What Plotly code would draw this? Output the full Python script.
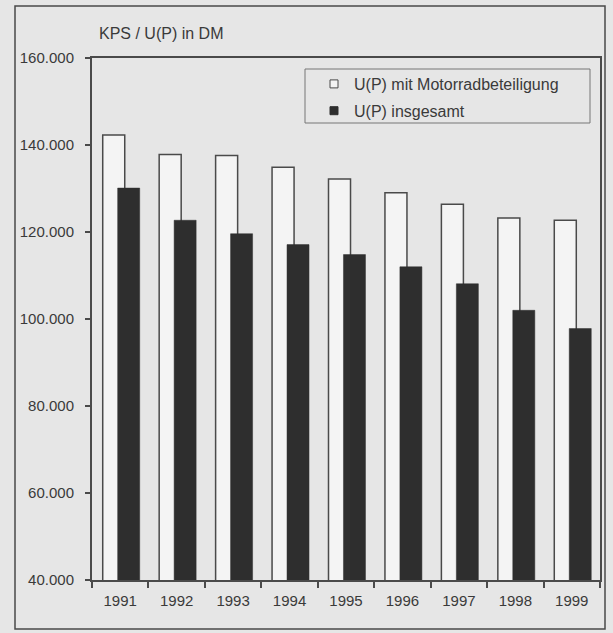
import plotly.graph_objects as go

# Unfallkosten je Personenschaden (DM), 1991-1999
years = ["1991", "1992", "1993", "1994", "1995", "1996", "1997", "1998", "1999"]
up_motorrad = [142300, 137800, 137600, 134900, 132200, 129000, 126400, 123200, 122700]
up_insgesamt = [130100, 122700, 119600, 117100, 114800, 112000, 108100, 102000, 97800]

series_names = ["U(P) mit Motorradbeteiligung", "U(P) insgesamt"]

W, H = 613, 633
ML, MR, MT, MB = 92, 13, 58, 53
PW, PH = W - ML - MR, H - MT - MB

def px_x(x):
    return (x - ML) / PW

def px_y(y):
    return (H - MB - y) / PH

FONT = "Liberation Sans, Arial, sans-serif"
INK = "#3a3a3a"
LINE = "#4a4a4a"
BG = "#e6e6e6"
LIGHT = "#f4f4f4"
DARK = "#2e2e2e"

fig = go.Figure()
fig.add_trace(go.Bar(
    x=years, y=up_motorrad, name=series_names[0],
    offset=-0.31, width=0.39,
    marker=dict(color=LIGHT, line=dict(color=LINE, width=1.5)),
    showlegend=False,
))
fig.add_trace(go.Bar(
    x=years, y=up_insgesamt, name=series_names[1],
    offset=-0.045, width=0.39,
    marker=dict(color=DARK, line=dict(color=DARK, width=0.5)),
    showlegend=False,
))

# small square legend keys
fig.add_trace(go.Scatter(
    x=[None], y=[None], mode="markers", name=series_names[0],
    marker=dict(symbol="square", size=8, color=LIGHT, line=dict(color=LINE, width=1)),
    legendgroup="a",
))
fig.add_trace(go.Scatter(
    x=[None], y=[None], mode="markers", name=series_names[1],
    marker=dict(symbol="square", size=8, color=DARK, line=dict(color=DARK, width=1)),
    legendgroup="b",
))

# frame around the whole chart
fig.add_shape(type="rect", xref="paper", yref="paper",
              x0=px_x(15), x1=px_x(605), y0=px_y(629), y1=px_y(6),
              line=dict(color=LINE, width=1.5), fillcolor="rgba(0,0,0,0)")
# legend box
fig.add_shape(type="rect", xref="paper", yref="paper",
              x0=px_x(305), x1=px_x(590), y0=px_y(123), y1=px_y(69),
              line=dict(color="#777777", width=1), fillcolor="rgba(0,0,0,0)")

fig.add_annotation(text="KPS / U(P) in DM", xref="paper", yref="paper",
                   x=px_x(97), y=px_y(33), xanchor="left", yanchor="middle",
                   showarrow=False, font=dict(family=FONT, size=16, color=INK))

fig.update_layout(
    width=W, height=H,
    margin=dict(l=ML, r=MR, t=MT, b=MB),
    paper_bgcolor=BG, plot_bgcolor=BG,
    barmode="overlay",
    separators=",.",
    font=dict(family=FONT, size=15, color=INK),
    showlegend=True,
    legend=dict(
        x=px_x(314), y=px_y(67), xanchor="left", yanchor="top",
        bgcolor="rgba(0,0,0,0)", borderwidth=0,
        traceorder="grouped", tracegroupgap=3,
        font=dict(family=FONT, size=16, color=INK),
        itemwidth=30,
    ),
    xaxis=dict(
        type="category", tickson="boundaries",
        ticks="outside", ticklen=6, tickcolor=LINE, tickwidth=1.5,
        showline=True, linecolor=LINE, linewidth=2, mirror=True,
        showgrid=False, ticklabelstandoff=6,
        range=[-0.5, 8.5],
    ),
    yaxis=dict(
        range=[40000, 160000], dtick=20000, tickformat=",d",
        ticks="outside", ticklen=5, tickcolor=LINE, tickwidth=1.5,
        showline=True, linecolor=LINE, linewidth=2, mirror=True,
        showgrid=False, zeroline=False, ticklabelstandoff=8,
    ),
)

fig.write_html("out.html")
